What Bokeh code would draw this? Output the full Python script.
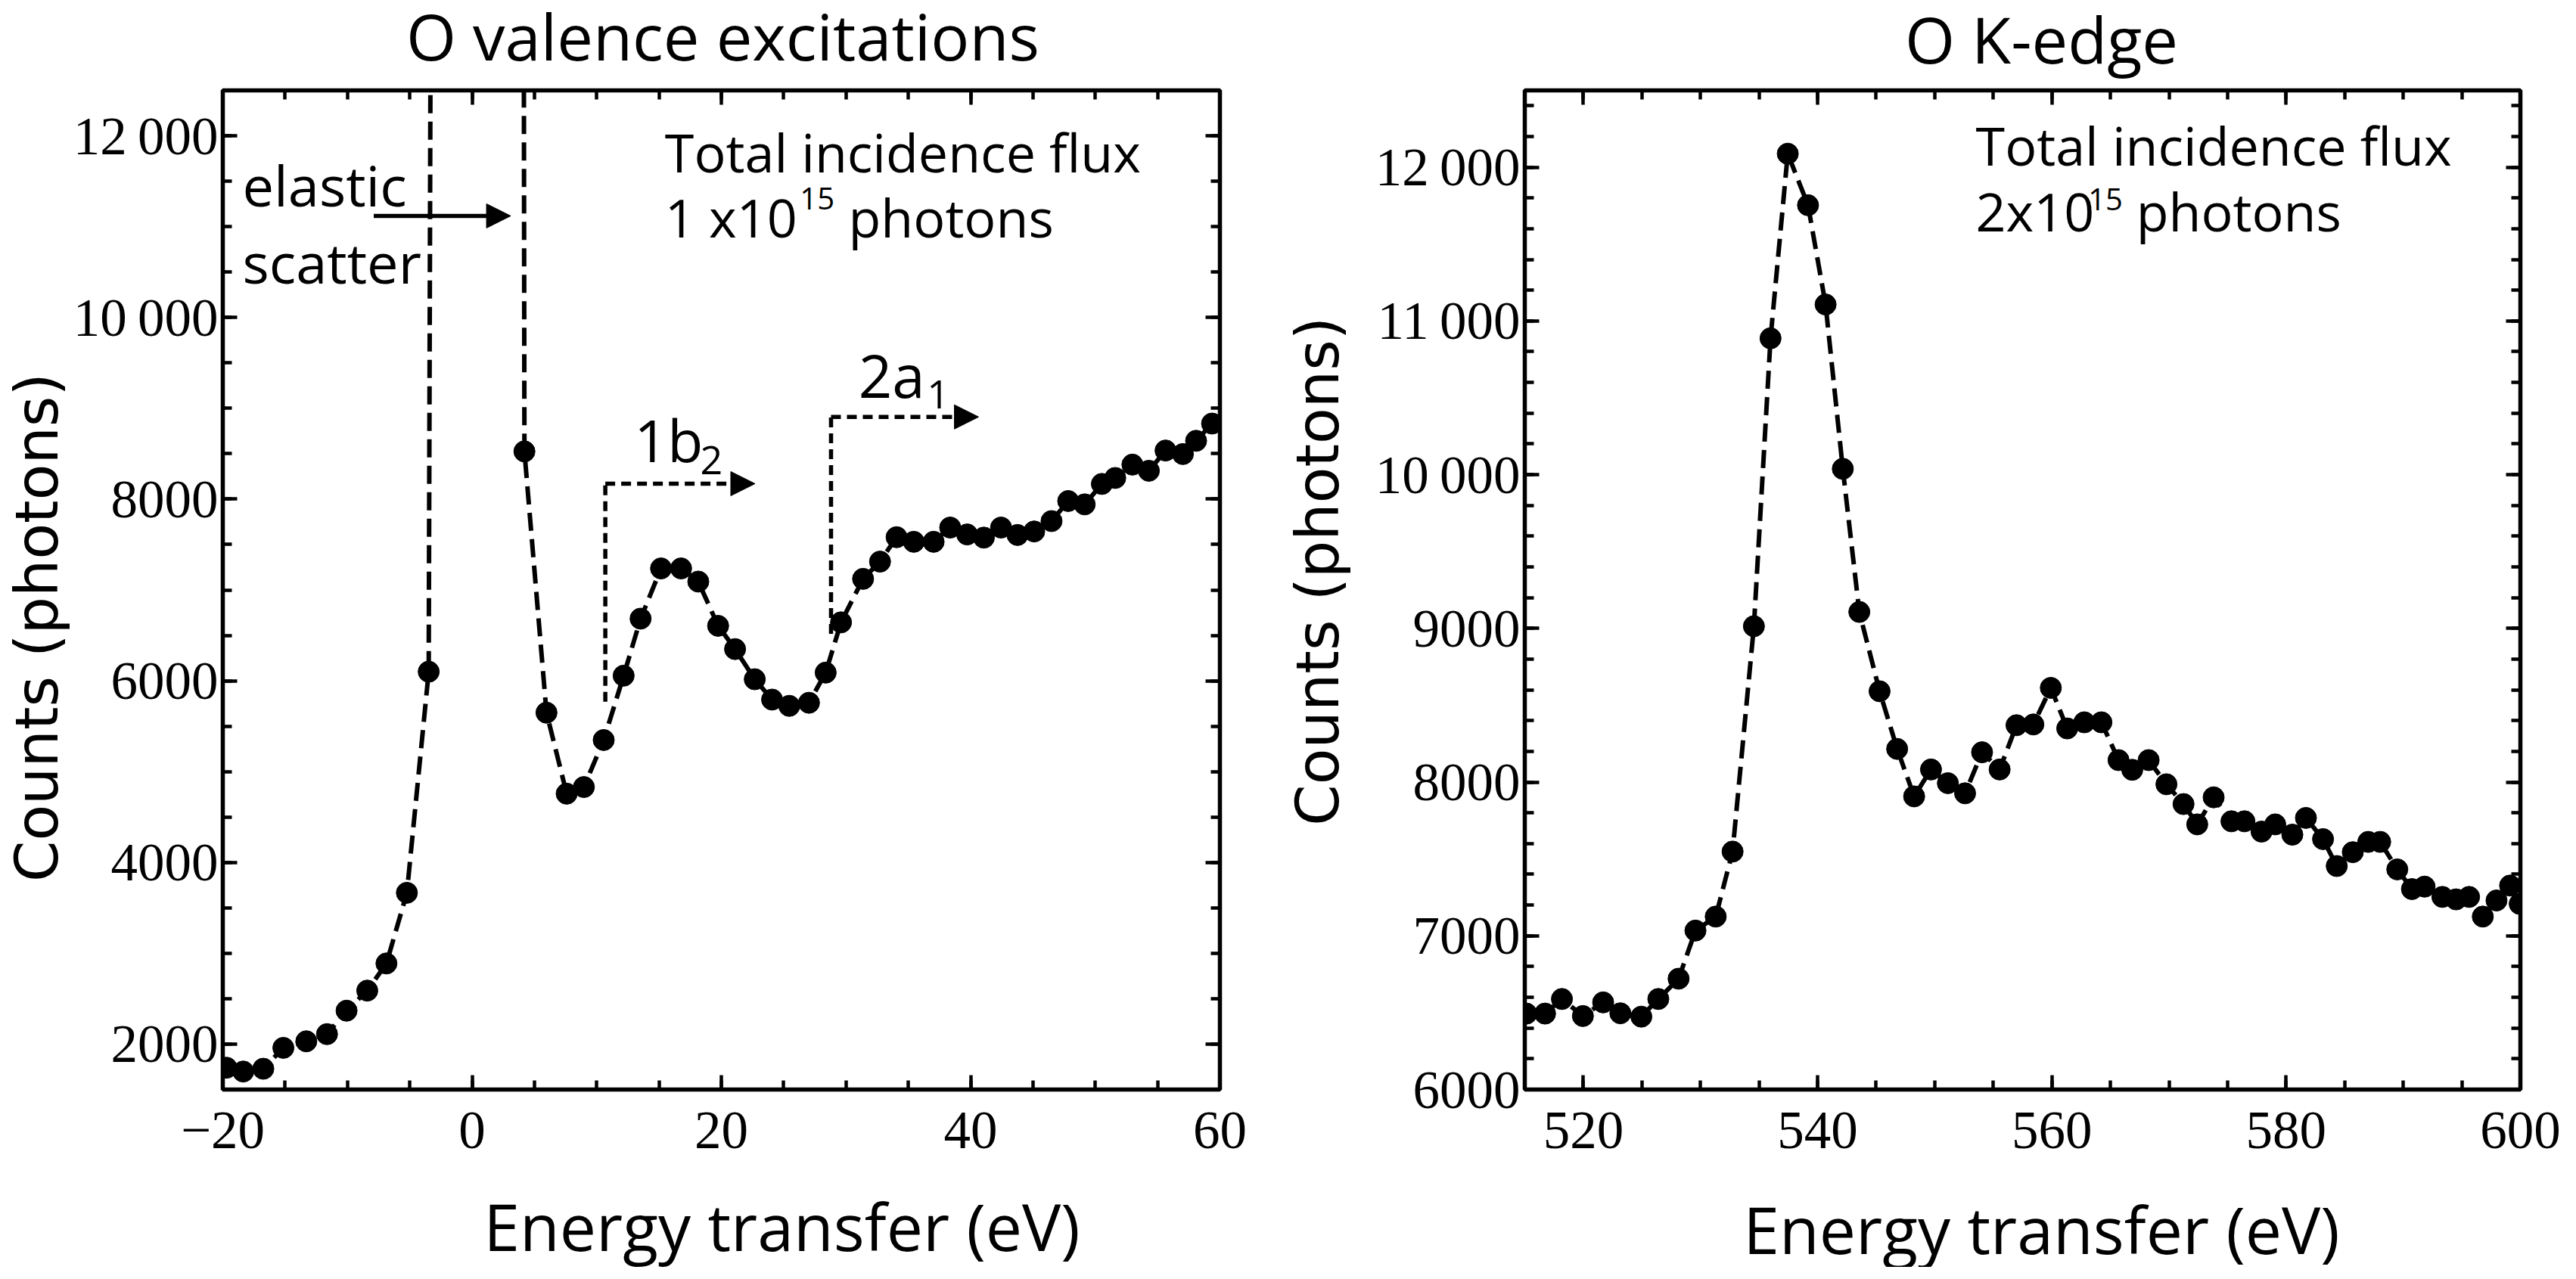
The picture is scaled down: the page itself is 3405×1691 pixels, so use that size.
import math
from bokeh.plotting import figure
from bokeh.layouts import row, column
from bokeh.models import (FixedTicker, LinearAxis, Label, Arrow, NormalHead,
                          CustomJSTickFormatter, Range1d)
from bokeh.embed import file_html
from bokeh.resources import INLINE

# ---------------- data ----------------
valence_energy = [-19.7, -18.36, -16.75, -15.14, -13.30, -11.64, -10.07, -8.41, -6.87, -5.23,
                  -3.48, -1.9, -0.3, 1.2, 2.7,
                  4.2, 5.97, 7.59, 8.97, 10.56, 12.16, 13.52, 15.16, 16.77, 18.15,
                  19.74, 21.10, 22.68, 24.07, 25.45, 27.03, 28.37, 29.60, 31.37, 32.73,
                  34.06, 35.44, 37.03, 38.36, 39.72, 41.06, 42.44, 43.76, 45.10, 46.49,
                  47.83, 49.15, 50.53, 51.60, 52.98, 54.30, 55.64, 57.03, 58.09, 59.37]
valence_counts = [1740, 1698, 1729, 1959, 2031, 2110, 2368, 2589, 2888, 3666,
                  6100, 80000, 300000, 320000, 150000,
                  8525, 5649, 4757, 4830, 5348, 6056, 6684, 7237, 7237, 7092,
                  6605, 6349, 6017, 5793, 5724, 5758, 6090, 6643, 7122, 7312,
                  7581, 7530, 7530, 7687, 7611, 7576, 7687, 7605, 7644, 7758,
                  7979, 7942, 8167, 8233, 8380, 8312, 8535, 8496, 8642, 8832]

kedge_energy = [515.14, 516.73, 518.17, 519.96, 521.69, 523.16, 524.95, 526.40, 528.13, 529.57,
                531.30, 532.74, 534.56, 535.98, 537.45, 539.18, 540.68, 542.15, 543.56, 545.29,
                546.79, 548.24, 549.68, 551.12, 552.59, 554.04, 555.54, 556.98, 558.42, 559.91,
                561.31, 562.77, 564.23, 565.69, 566.86, 568.26, 569.78, 571.24, 572.41, 573.81,
                575.33, 576.44, 577.90, 579.07, 580.53, 581.69, 583.15, 584.32, 585.69, 587.01,
                588.03, 589.49, 590.74, 591.82, 593.34, 594.51, 595.62, 596.79, 597.96, 599.12,
                599.94]
kedge_counts = [6494, 6494, 6589, 6478, 6567, 6496, 6474, 6589, 6721, 7034,
                7125, 7548, 9014, 10887, 12088, 11753, 11107, 10038, 9107, 8591,
                8216, 7907, 8082, 7993, 7927, 8194, 8082, 8370, 8375, 8613,
                8349, 8389, 8389, 8143, 8080, 8143, 7986, 7857, 7725, 7901,
                7745, 7745, 7678, 7725, 7658, 7767, 7629, 7454, 7544, 7611,
                7611, 7432, 7304, 7320, 7253, 7237, 7253, 7125, 7230, 7327,
                7208]

left_x_ticks = [-20, 0, 20, 40, 60]
left_x_labels = ["\u221220", "0", "20", "40", "60"]
left_y_ticks = [2000, 4000, 6000, 8000, 10000, 12000]
left_y_labels = ["2000", "4000", "6000", "8000", "10\u2009000", "12\u2009000"]
right_x_ticks = [520, 540, 560, 580, 600]
right_x_labels = ["520", "540", "560", "580", "600"]
right_y_ticks = [6000, 7000, 8000, 9000, 10000, 11000, 12000]
right_y_labels = ["6000", "7000", "8000", "9000", "10\u2009000", "11\u2009000", "12\u2009000"]

left_x_range = (-20, 60)
left_y_range = (1500, 12500)
right_x_range = (515, 600)
right_y_range = (6000, 12500)

left_x_minor = list(range(-20, 61, 5))
left_y_minor = list(range(1500, 12501, 500))
right_x_minor = list(range(515, 601, 5))
right_y_minor = list(range(6000, 12501, 200))

titles = ["O valence excitations", "O K-edge"]
x_title = "Energy transfer (eV)"
y_title = "Counts (photons)"
NBSP = "\u00a0"

# annotation anchors (data units)
elastic_arrow = (-7.89, 3.1, 11118)
b2_vertical = (10.69, 5770, 8170)
b2_arrow_tip = 22.7
a1_vertical = (28.80, 6516, 8905)
a1_arrow_tip = 40.64

SANS = "Open Sans"
SERIF = "Liberation Serif"
YFONT = "DejaVu Sans"
BLACK = "black"

W1, W2 = 1692, 1697            # widths of the two columns
TOP_H = 112                    # strip for the titles
PLOT_H = 7 + 1321 + 120        # plot figures
BOT_H = 1675 - TOP_H - PLOT_H  # strip for x titles (115)


def style_axis(ax, ticks, minor, labels=None):
    ax.ticker = FixedTicker(ticks=ticks, minor_ticks=minor)
    ax.axis_line_color = None
    ax.major_tick_in = 19
    ax.major_tick_out = 0
    ax.minor_tick_in = 12
    ax.minor_tick_out = 0
    ax.major_tick_line_width = 4.5
    ax.minor_tick_line_width = 4.5
    ax.major_tick_line_color = BLACK
    ax.minor_tick_line_color = BLACK
    if labels is None:
        ax.formatter = CustomJSTickFormatter(code="return ''")
        ax.major_label_text_font_size = "1px"
        ax.major_label_standoff = 0
    else:
        ax.major_label_overrides = {t: l for t, l in zip(ticks, labels)}
        ax.major_label_text_font = SERIF
        ax.major_label_text_font_size = "71px"
        ax.major_label_text_color = BLACK


def make_fig(xr, yr, xt, xl, xm, yt, yl, ym, b_left, f_width, b_right, ylab, ylab_standoff):
    p = figure(frame_width=f_width, frame_height=1321,
               min_border_left=b_left, min_border_right=b_right,
               min_border_top=7, min_border_bottom=120,
               x_range=Range1d(*xr), y_range=Range1d(*yr),
               output_backend="svg", toolbar_location=None)
    p.xgrid.visible = False
    p.ygrid.visible = False
    p.background_fill_color = "white"
    p.border_fill_color = "white"
    p.outline_line_color = BLACK
    p.outline_line_width = 5.5
    style_axis(p.xaxis[0], xt, xm, xl)
    style_axis(p.yaxis[0], yt, ym, yl)
    p.xaxis[0].major_label_standoff = 30
    p.yaxis[0].major_label_standoff = 6
    ya = p.yaxis[0]
    ya.axis_label = ylab
    ya.axis_label_text_font = YFONT
    ya.axis_label_text_font_size = "78px"
    ya.axis_label_text_font_style = "normal"
    ya.axis_label_text_color = BLACK
    ya.axis_label_standoff = ylab_standoff
    top = LinearAxis()
    style_axis(top, xt, xm)
    p.add_layout(top, "above")
    right = LinearAxis()
    style_axis(right, yt, ym)
    p.add_layout(right, "right")
    return p


def strip(width, height):
    s = figure(width=width, height=height, x_range=Range1d(0, width), y_range=Range1d(0, height),
               min_border=0, toolbar_location=None, output_backend="svg",
               x_axis_location=None, y_axis_location=None)
    s.xgrid.visible = False
    s.ygrid.visible = False
    s.outline_line_color = None
    s.background_fill_color = "white"
    s.border_fill_color = "white"
    return s


def text(p, x, y, s, size, font=SANS, align="left"):
    # y is the wanted baseline; lift by the font descent, which Bokeh puts under y
    p.add_layout(Label(x=x, y=y, text=s, text_font=font, text_font_size=f"{size}px",
                       text_color=BLACK, text_align=align, text_baseline="alphabetic",
                       y_offset=0.3 * size))


def head():
    return NormalHead(size=32, fill_color=BLACK, line_color=BLACK, line_width=1)


# ---------------- left panel ----------------
p1 = make_fig(left_x_range, left_y_range, left_x_ticks, left_x_labels, left_x_minor,
              left_y_ticks, left_y_labels, left_y_minor, 293, 1318, 81,
              y_title + NBSP * 4, 0)
p1.line(valence_energy, valence_counts, line_color=BLACK, line_width=6, line_dash="24 11")
p1.scatter(valence_energy, valence_counts, marker="circle", size=28, color=BLACK)

text(p1, -18.42, 11276, "elastic", 74)
text(p1, -18.42, 10422, "scatter", 74)
p1.add_layout(Arrow(end=head(), x_start=elastic_arrow[0], y_start=elastic_arrow[2],
                    x_end=elastic_arrow[1], y_end=elastic_arrow[2],
                    line_color=BLACK, line_width=5.5))

text(p1, 15.47, 11646, "Total incidence flux", 70)
text(p1, 15.47, 10932, "1 x10", 70)
text(p1, 26.3, 11213, "15", 40)
text(p1, 30.2, 10932, "photons", 70)

p1.line([b2_vertical[0], b2_vertical[0]], [b2_vertical[1], b2_vertical[2]],
        line_color=BLACK, line_width=5.5, line_dash="13 8")
p1.add_layout(Arrow(end=head(), x_start=b2_vertical[0], y_start=b2_vertical[2],
                    x_end=b2_arrow_tip, y_end=b2_vertical[2],
                    line_color=BLACK, line_width=5.5, line_dash="13 8"))
text(p1, 13.01, 8460, "1b", 77)
text(p1, 18.3, 8300, "2", 52)

p1.line([a1_vertical[0], a1_vertical[0]], [a1_vertical[1], a1_vertical[2]],
        line_color=BLACK, line_width=5.5, line_dash="13 8")
p1.add_layout(Arrow(end=head(), x_start=a1_vertical[0], y_start=a1_vertical[2],
                    x_end=a1_arrow_tip, y_end=a1_vertical[2],
                    line_color=BLACK, line_width=5.5, line_dash="13 8"))
text(p1, 31.0, 9173, "2a", 78)
text(p1, 36.5, 9019, "1", 52)

# ---------------- right panel ----------------
p2 = make_fig(right_x_range, right_y_range, right_x_ticks, right_x_labels, right_x_minor,
              right_y_ticks, right_y_labels, right_y_minor, 321, 1316, 60,
              NBSP * 2 + y_title, 28)
p2.line(kedge_energy, kedge_counts, line_color=BLACK, line_width=6, line_dash="24 11")
p2.scatter(kedge_energy, kedge_counts, marker="circle", size=28, color=BLACK)

text(p2, 553.5, 12040, "Total incidence flux", 70)
text(p2, 553.5, 11611, "2x10", 70)
text(p2, 563.1, 11732, "15", 40)
text(p2, 567.2, 11611, "photons", 70)

# ---------------- title strips (pixel coordinates inside each strip) ----------------
t1 = strip(W1, TOP_H)
t2 = strip(W2, TOP_H)
text(t1, 955, TOP_H - 72, titles[0], 85, align="center")
text(t2, 1006, TOP_H - 76, titles[1], 85, align="center")

b1 = strip(W1, BOT_H)
b2 = strip(W2, BOT_H)
text(b1, 1033, BOT_H - 86, x_title, 86, align="center")
text(b2, 1006, BOT_H - 90, x_title, 86, align="center")

layout = column(row(t1, t2), row(p1, p2), row(b1, b2))
open("out.html", "w").write(file_html(layout, INLINE))
